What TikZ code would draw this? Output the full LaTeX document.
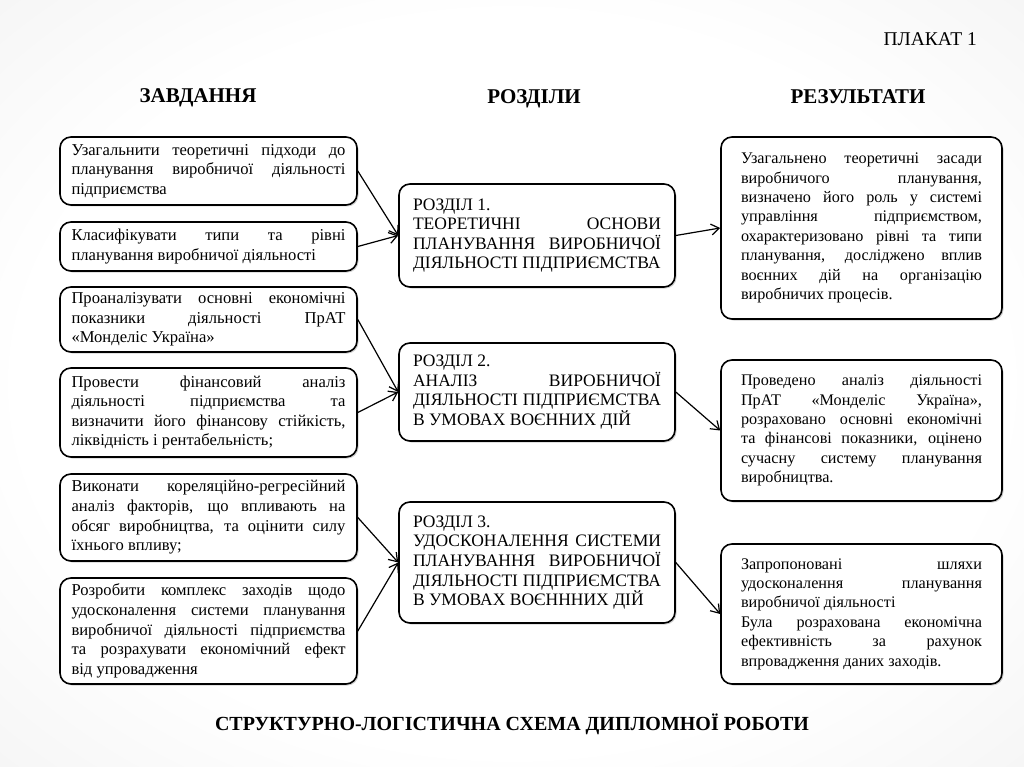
\documentclass[tikz,border=0pt]{standalone}
\usepackage{fontspec}
\setmainfont{Liberation Serif}[BoldFont={Liberation Serif Bold}]
\usetikzlibrary{arrows.meta,shadows}
\pgfdeclareradialshading{bgshade}{\pgfpoint{0bp}{0bp}}{color(0bp)=(white); color(24bp)=(white); color(40bp)=(black!5); color(50bp)=(black!13)}
\newcommand\parsetup{\hyphenpenalty10000\relax\tolerance10000\relax\emergencystretch30pt\relax}
\newcommand\taskfont{\fontsize{16.6}{19.6}\selectfont\parsetup}
\newcommand\chapfont{\fontsize{17.5}{19.6}\selectfont\parsetup}
\newcommand\resfont{\fontsize{16.2}{19.4}\selectfont\parsetup}
\newcommand\headfont{\fontsize{21}{24}\selectfont\bfseries}
\tikzset{
  box/.style={draw=black, line width=1.6pt, rounded corners=11pt, fill=white,
    drop shadow={shadow xshift=1.5pt, shadow yshift=-1.5pt, opacity=0.3, fill=black!60},
    align=justify, inner ysep=0pt},
  taskbox/.style={box, font=\taskfont, minimum width=297pt, text width=274pt, inner xsep=11.5pt},
  chapbox/.style={box, font=\chapfont, minimum width=276pt, text width=248pt, inner xsep=14pt},
  resbox/.style={box, font=\resfont, minimum width=281pt, text width=241pt, inner xsep=20pt},
  head/.style={font=\headfont, inner sep=0pt},
  link/.style={line width=1.2pt, -{Straight Barb[length=8pt,width=11pt,line width=1.2pt]}}
}
\begin{document}
\begin{tikzpicture}[x=1pt,y=-1pt]
\useasboundingbox (0,0) rectangle (1024,767);
\shade[shading=bgshade] (0,0) rectangle (1024,767);

\node[inner sep=0pt, anchor=east, font=\fontsize{19.5}{22}\selectfont] (plakat) at (977,39) {ПЛАКАТ 1};
\node[head] (hz) at (198,98) {ЗАВДАННЯ};
\node[head] (hr) at (534,99) {РОЗДІЛИ};
\node[head] (hres) at (858,97) {РЕЗУЛЬТАТИ};
\node[head, font=\fontsize{20}{24}\selectfont\bfseries] (title) at (512,724) {СТРУКТУРНО-ЛОГІСТИЧНА СХЕМА ДИПЛОМНОЇ РОБОТИ};

% tasks
\node[taskbox, minimum height=68pt] (L1) at (208.5,171) {Узагальнити теоретичні підходи до\linebreak планування виробничої діяльності\linebreak підприємства};
\node[taskbox, minimum height=49pt] (L2) at (208.5,246.5) {Класифікувати типи та рівні\linebreak планування виробничої діяльності};
\node[taskbox, minimum height=65pt] (L3) at (208.5,319.5) {Проаналізувати основні економічні\linebreak показники діяльності ПрАТ\linebreak «Монделіс Україна»};
\node[taskbox, minimum height=89pt] (L4) at (208.5,412.5) {Провести фінансовий аналіз\linebreak діяльності підприємства та\linebreak визначити його фінансову стійкість,\linebreak ліквідність і рентабельність;};
\node[taskbox, minimum height=87pt] (L5) at (208.5,517.5) {Виконати кореляційно-регресійний\linebreak аналіз факторів, що впливають на\linebreak обсяг виробництва, та оцінити силу\linebreak їхнього впливу;};
\node[taskbox, minimum height=106pt] (L6) at (208.5,631) {Розробити комплекс заходів щодо\linebreak удосконалення системи планування\linebreak виробничої діяльності підприємства\linebreak та розрахувати економічний ефект\linebreak від упровадження};

% chapters
\node[chapbox, minimum height=103pt] (M1) at (537,235.5) {РОЗДІЛ 1.\par ТЕОРЕТИЧНІ ОСНОВИ\linebreak ПЛАНУВАННЯ ВИРОБНИЧОЇ\linebreak ДІЯЛЬНОСТІ ПІДПРИЄМСТВА};
\node[chapbox, minimum height=98pt] (M2) at (537,392) {РОЗДІЛ 2.\par АНАЛІЗ ВИРОБНИЧОЇ\linebreak ДІЯЛЬНОСТІ ПІДПРИЄМСТВА\linebreak В УМОВАХ ВОЄННИХ ДІЙ};
\node[chapbox, minimum height=121pt] (M3) at (537,562.5) {РОЗДІЛ 3.\par УДОСКОНАЛЕННЯ СИСТЕМИ\linebreak ПЛАНУВАННЯ ВИРОБНИЧОЇ\linebreak ДІЯЛЬНОСТІ ПІДПРИЄМСТВА\linebreak В УМОВАХ ВОЄНННИХ ДІЙ};

% results
\node[resbox, minimum height=182pt] (R1) at (861.5,228) {Узагальнено теоретичні засади\linebreak виробничого планування,\linebreak визначено його роль у системі\linebreak управління підприємством,\linebreak охарактеризовано рівні та типи\linebreak планування, досліджено вплив\linebreak воєнних дій на організацію\linebreak виробничих процесів.};
\node[resbox, minimum height=141pt] (R2) at (861.5,430.5) {Проведено аналіз діяльності\linebreak ПрАТ «Монделіс Україна»,\linebreak розраховано основні економічні\linebreak та фінансові показники, оцінено\linebreak сучасну систему планування\linebreak виробництва.};
\node[resbox, minimum height=140pt] (R3) at (861.5,614) {Запропоновані шляхи\linebreak удосконалення планування\linebreak виробничої діяльності\par Була розрахована економічна\linebreak ефективність за рахунок\linebreak впровадження даних заходів.};

% connectors
\draw[link] (L1.east) -- (M1.west);
\draw[link] (L2.east) -- (M1.west);
\draw[link] (L3.east) -- (M2.west);
\draw[link] (L4.east) -- (M2.west);
\draw[link] (L5.east) -- (M3.west);
\draw[link] (L6.east) -- (M3.west);
\draw[link] (M1.east) -- (R1.west);
\draw[link] (M2.east) -- (R2.west);
\draw[link] (M3.east) -- (R3.west);
\end{tikzpicture}
\end{document}
